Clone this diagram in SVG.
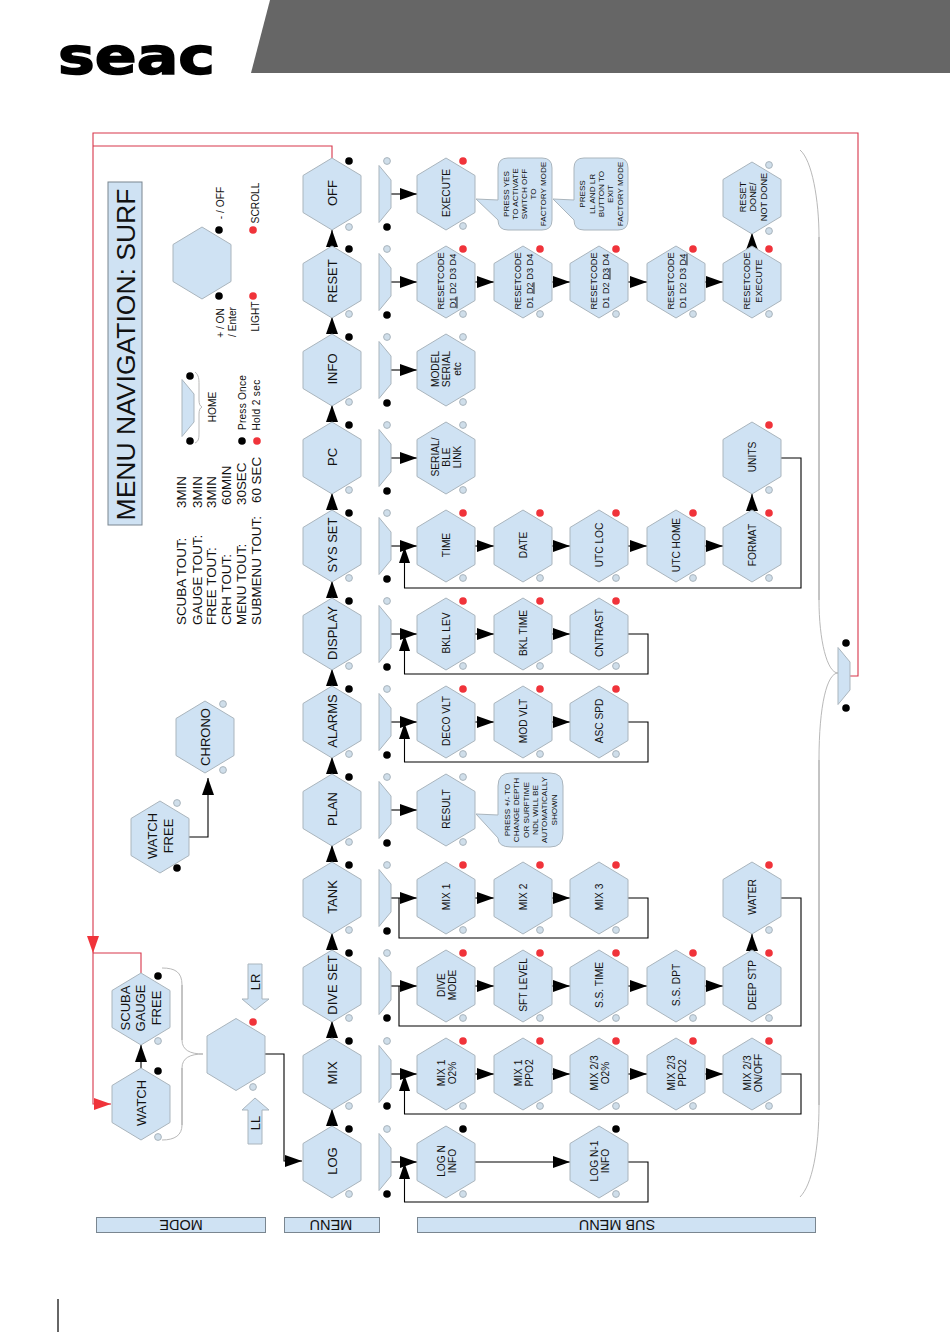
<svg xmlns="http://www.w3.org/2000/svg" width="950" height="1332" viewBox="0 0 950 1332">
<style>
text{font-family:"Liberation Sans",Arial,sans-serif;fill:#111;text-anchor:middle}
.hx,.tz,.bar,.blk,.bub{fill:#cfe2f3;stroke:#aab5bd;stroke-width:1}
.bar{stroke:#7a8690}
.k{fill:#000;r:3.8px}
.r{fill:#f0333a;r:3.8px}
.g{fill:#cfdeea;stroke:#aab5bd;stroke-width:1;r:3.4px}
.m{font-size:13px}
.s{font-size:10.2px}
.c{font-size:9.2px}
.b{font-size:8.1px}
.l{font-size:13.4px;text-anchor:start}
.h{font-size:14.5px}
.w{font-size:10.2px}
.ln{fill:none;stroke:#000;stroke-width:1.1;marker-end:url(#a)}
.lp{fill:none;stroke:#000;stroke-width:1.1}
.lu{fill:none;stroke:#000;stroke-width:1.1;marker-end:url(#au)}
.rd{fill:none;stroke:#d8364a;stroke-width:1.1}
.rda{fill:none;stroke:#d8364a;stroke-width:1.1;marker-end:url(#ar)}
.rdm{fill:none;stroke:none;marker-end:url(#ar)}
.br{fill:none;stroke:#b0b0b0;stroke-width:.9}
.bv{fill:none;stroke:#888;stroke-width:1}
</style>
<defs>
<polygon id="hex" class="hx" points="0,-36 29,-18.5 29,18.5 0,36 -29,18.5 -29,-18.5"/>
<polygon id="tz" class="tz" points="0,-28.5 12,-14 12,14 0,28.5"/>
<marker id="a" markerUnits="userSpaceOnUse" markerWidth="18" markerHeight="13" refX="17" refY="6" orient="auto"><path d="M0,0L17,6L0,12z" fill="#000"/></marker>
<marker id="au" markerUnits="userSpaceOnUse" markerWidth="18" markerHeight="13" refX="16" refY="5.5" orient="auto"><path d="M0,0L16,5.5L0,11z" fill="#000"/></marker>
<marker id="ar" markerUnits="userSpaceOnUse" markerWidth="18" markerHeight="13" refX="17" refY="6" orient="auto"><path d="M0,0L17,6L0,12z" fill="#f0333a"/></marker>
</defs>

<g id="header">
<polygon points="270,0 950,0 950,73 251,73" fill="#666"/>
<text x="136.5" y="73.5" font-size="52" font-weight="bold" textLength="157" lengthAdjust="spacingAndGlyphs" stroke="#000" stroke-width="1.5" stroke-linejoin="miter" style="font-family:'DejaVu Sans',sans-serif;fill:#000">seac</text>
<line x1="58" y1="1299" x2="58" y2="1332" stroke="#666" stroke-width="2"/>
</g>

<g id="connectors">
<path class="rda" d="M849,676H858V133H93V1104H111"/>
<path class="rd" d="M332,158V146H93"/>
<path class="rdm" d="M93,936V953"/>
<path class="rd" d="M141,973V953H93"/>
<path class="br" d="M162,968C175,968 182,972 182,985"/>
<path class="bv" d="M182,985V1040"/>
<path class="br" d="M182,1040C182,1050 190,1054 203,1054C190,1054 182,1058 182,1068"/>
<path class="bv" d="M182,1068V1125"/>
<path class="br" d="M182,1125C182,1135 175,1140 162,1140"/>
<path class="br" d="M800,150C812,160 819,200 819,237"/>
<path class="bv" d="M819,237V600"/>
<path class="br" d="M819,600C819,640 827,673 838,673C827,673 819,705 819,760"/>
<path class="bv" d="M819,760V1105"/>
<path class="br" d="M819,1105C819,1150 812,1185 800,1197"/>
<path class="br" d="M195,372C199,375 199,380 199,384V400C199,404 200,406 202,407C200,408 199,410 199,414V432C199,438 199,441 195,443"/>
<path class="ln" d="M332,1127V1109"/>
<path class="ln" d="M332,1039V1021"/>
<path class="ln" d="M332,951V933"/>
<path class="ln" d="M332,863V845"/>
<path class="ln" d="M332,775V757"/>
<path class="ln" d="M332,687V669"/>
<path class="ln" d="M332,599V581"/>
<path class="ln" d="M332,511V493"/>
<path class="ln" d="M332,423V405"/>
<path class="ln" d="M332,335V317"/>
<path class="ln" d="M332,248V230"/>
<path class="ln" d="M265,1054H284V1161H302"/>
<path class="ln" d="M141,1068V1045"/>
<path class="ln" d="M189,837H208V778"/>
<path class="ln" d="M391,194H417"/>
<path class="ln" d="M391,282H417"/>
<path class="ln" d="M391,370H417"/>
<path class="ln" d="M391,458H417"/>
<path class="ln" d="M391,546H417"/>
<path class="ln" d="M391,634H417"/>
<path class="ln" d="M391,722H417"/>
<path class="ln" d="M391,810H417"/>
<path class="ln" d="M391,898H417"/>
<path class="ln" d="M391,986H417"/>
<path class="ln" d="M391,1074H417"/>
<path class="ln" d="M391,1162H417"/>
<path class="ln" d="M475,282H494"/><path class="ln" d="M552,282H570"/><path class="ln" d="M628,282H647"/><path class="ln" d="M705,282H723"/>
<path class="ln" d="M752,250V233"/>
<path class="ln" d="M475,546H494"/><path class="ln" d="M552,546H570"/><path class="ln" d="M628,546H647"/><path class="ln" d="M705,546H723"/>
<path class="ln" d="M752,511V494"/>
<path class="lu" d="M781,458H801V588H404.5V547"/>
<path class="ln" d="M475,634H494"/><path class="ln" d="M552,634H570"/>
<path class="lu" d="M628,634H648V674H404.5V635"/>
<path class="ln" d="M475,722H494"/><path class="ln" d="M552,722H570"/>
<path class="lu" d="M628,722H648V762H404.5V723"/>
<path class="ln" d="M475,898H494"/><path class="ln" d="M552,898H570"/>
<path class="lp" d="M628,898H648V938H399V898"/>
<path class="ln" d="M475,986H494"/><path class="ln" d="M552,986H570"/><path class="ln" d="M628,986H647"/><path class="ln" d="M705,986H723"/>
<path class="ln" d="M752,950V934"/>
<path class="lp" d="M781,898H801V1026H399V986"/>
<path class="ln" d="M475,1074H494"/><path class="ln" d="M552,1074H570"/><path class="ln" d="M628,1074H647"/><path class="ln" d="M705,1074H723"/>
<path class="lu" d="M781,1074H801V1114H404.5V1075"/>
<path class="ln" d="M475,1162H570"/>
<path class="lu" d="M628,1162H648V1202H404.5V1163"/>
</g>

<g id="title"><rect class="bar" x="108" y="182" width="34" height="343"/><text transform="translate(135,354.5) rotate(-90)" font-size="26.5">MENU NAVIGATION: SURF</text></g>

<g id="timeouts">
<text class="l" transform="translate(186,625) rotate(-90)">SCUBA TOUT:</text>
<text class="l" transform="translate(201.5,625) rotate(-90)">GAUGE TOUT:</text>
<text class="l" transform="translate(216,625) rotate(-90)">FREE TOUT:</text>
<text class="l" transform="translate(231,625) rotate(-90)">CRH TOUT:</text>
<text class="l" transform="translate(246,625) rotate(-90)">MENU TOUT:</text>
<text class="l" transform="translate(260.5,625) rotate(-90)">SUBMENU TOUT:</text>
<text class="l" transform="translate(186,508) rotate(-90)">3MIN</text>
<text class="l" transform="translate(201.5,508) rotate(-90)">3MIN</text>
<text class="l" transform="translate(216,508) rotate(-90)">3MIN</text>
<text class="l" transform="translate(231,505) rotate(-90)">60MIN</text>
<text class="l" transform="translate(246,505) rotate(-90)">30SEC</text>
<text class="l" transform="translate(260.5,503) rotate(-90)">60 SEC</text>
</g>

<g id="legend-keys">
<use href="#hex" x="202" y="263"/>
<circle class="k" cx="219" cy="230"/><circle class="k" cx="219" cy="296"/>
<circle class="r" cx="253" cy="230"/><circle class="r" cx="253" cy="296"/>
<text class="w" transform="translate(223.5,203) rotate(-90)">- / OFF</text>
<text class="w" transform="translate(258.5,203) rotate(-90)">SCROLL</text>
<text class="w" transform="translate(223.5,323) rotate(-90)">+ / ON</text>
<text class="w" transform="translate(236,322) rotate(-90)">/ Enter</text>
<text class="w" transform="translate(258.5,316.5) rotate(-90)">LIGHT</text>
</g>

<g id="legend-home">
<use href="#tz" x="182" y="408"/>
<circle class="k" cx="190" cy="376"/><circle class="k" cx="190" cy="441"/>
<text class="w" transform="translate(215.5,407) rotate(-90)">HOME</text>
<circle class="k" cx="242" cy="441"/><circle class="r" cx="257" cy="441"/>
<text class="w" transform="translate(246,402.5) rotate(-90)" style="letter-spacing:.2px">Press Once</text>
<text class="w" transform="translate(260,405) rotate(-90)" style="letter-spacing:.3px">Hold 2 sec</text>
</g>

<g id="n-watch-free"><use href="#hex" x="160" y="837"/><circle class="g" cx="177" cy="803"/><circle class="k" cx="177" cy="868"/><text class="m" transform="translate(156.5,836) rotate(-90)">WATCH</text><text class="m" transform="translate(172.5,836) rotate(-90)">FREE</text></g>
<g id="n-chrono"><use href="#hex" x="205" y="737"/><circle class="g" cx="223" cy="704"/><circle class="g" cx="223" cy="770"/><text class="m" transform="translate(209.7,737) rotate(-90)">CHRONO</text></g>
<g id="n-scuba"><use href="#hex" x="141" y="1009"/><circle class="k" cx="158" cy="976"/><circle class="g" cx="158" cy="1041"/><text class="m" transform="translate(130,1008) rotate(-90)">SCUBA</text><text class="m" transform="translate(145,1008) rotate(-90)">GAUGE</text><text class="m" transform="translate(160.5,1008) rotate(-90)">FREE</text></g>
<g id="n-watch"><use href="#hex" x="141" y="1104"/><circle class="k" cx="158" cy="1071"/><circle class="g" cx="158" cy="1137"/><text class="m" transform="translate(145.7,1103) rotate(-90)">WATCH</text></g>
<g id="n-mode"><use href="#hex" x="236" y="1054.5"/><circle class="r" cx="253" cy="1022"/><circle class="g" cx="253" cy="1087"/></g>
<g id="n-lr"><polygon class="blk" points="248,964 262,964 262,999 269,999 255,1010 242,999 248,999"/><text class="m" transform="translate(259.7,982) rotate(-90)">LR</text></g>
<g id="n-ll"><polygon class="blk" points="255,1098 269,1110 262,1110 262,1144 248,1144 248,1110 242,1110"/><text class="m" transform="translate(259.7,1123) rotate(-90)">LL</text></g>

<g id="n-log"><use href="#hex" x="332" y="1162"/><circle class="k" cx="349" cy="1129"/><circle class="g" cx="349" cy="1194"/><text class="m" transform="translate(336.5,1161) rotate(-90)">LOG</text></g>
<g id="n-mix"><use href="#hex" x="332" y="1074"/><circle class="k" cx="349" cy="1041"/><circle class="g" cx="349" cy="1106"/><text class="m" transform="translate(336.5,1073) rotate(-90)">MIX</text></g>
<g id="n-diveset"><use href="#hex" x="332" y="986"/><circle class="k" cx="349" cy="953"/><circle class="g" cx="349" cy="1018"/><text class="m" transform="translate(336.5,985) rotate(-90)">DIVE SET</text></g>
<g id="n-tank"><use href="#hex" x="332" y="898"/><circle class="k" cx="349" cy="865"/><circle class="g" cx="349" cy="930"/><text class="m" transform="translate(336.5,897) rotate(-90)">TANK</text></g>
<g id="n-plan"><use href="#hex" x="332" y="810"/><circle class="k" cx="349" cy="777"/><circle class="g" cx="349" cy="842"/><text class="m" transform="translate(336.5,809) rotate(-90)">PLAN</text></g>
<g id="n-alarms"><use href="#hex" x="332" y="722"/><circle class="k" cx="349" cy="689"/><circle class="g" cx="349" cy="754"/><text class="m" transform="translate(336.5,721) rotate(-90)">ALARMS</text></g>
<g id="n-display"><use href="#hex" x="332" y="634"/><circle class="k" cx="349" cy="601"/><circle class="g" cx="349" cy="666"/><text class="m" transform="translate(336.5,633) rotate(-90)">DISPLAY</text></g>
<g id="n-sysset"><use href="#hex" x="332" y="546"/><circle class="k" cx="349" cy="513"/><circle class="g" cx="349" cy="578"/><text class="m" transform="translate(336.5,545) rotate(-90)">SYS SET</text></g>
<g id="n-pc"><use href="#hex" x="332" y="458"/><circle class="k" cx="349" cy="425"/><circle class="g" cx="349" cy="490"/><text class="m" transform="translate(336.5,457) rotate(-90)">PC</text></g>
<g id="n-info"><use href="#hex" x="332" y="370"/><circle class="k" cx="349" cy="337"/><circle class="g" cx="349" cy="402"/><text class="m" transform="translate(336.5,369) rotate(-90)">INFO</text></g>
<g id="n-reset"><use href="#hex" x="332" y="282"/><circle class="k" cx="349" cy="249"/><circle class="g" cx="349" cy="314"/><text class="m" transform="translate(336.5,281) rotate(-90)">RESET</text></g>
<g id="n-off"><use href="#hex" x="332" y="194"/><circle class="k" cx="349" cy="161"/><circle class="g" cx="349" cy="227"/><text class="m" transform="translate(336.5,193) rotate(-90)">OFF</text></g>

<g id="b-off"><use href="#tz" x="379" y="194"/><circle class="g" cx="387" cy="161"/><circle class="k" cx="387" cy="227"/></g>
<g id="b-reset"><use href="#tz" x="379" y="282"/><circle class="g" cx="387" cy="249"/><circle class="k" cx="387" cy="315"/></g>
<g id="b-info"><use href="#tz" x="379" y="370"/><circle class="g" cx="387" cy="337"/><circle class="k" cx="387" cy="403"/></g>
<g id="b-pc"><use href="#tz" x="379" y="458"/><circle class="g" cx="387" cy="425"/><circle class="k" cx="387" cy="491"/></g>
<g id="b-sysset"><use href="#tz" x="379" y="546"/><circle class="g" cx="387" cy="513"/><circle class="k" cx="387" cy="579"/></g>
<g id="b-display"><use href="#tz" x="379" y="634"/><circle class="g" cx="387" cy="601"/><circle class="k" cx="387" cy="667"/></g>
<g id="b-alarms"><use href="#tz" x="379" y="722"/><circle class="g" cx="387" cy="689"/><circle class="k" cx="387" cy="755"/></g>
<g id="b-plan"><use href="#tz" x="379" y="810"/><circle class="g" cx="387" cy="777"/><circle class="k" cx="387" cy="843"/></g>
<g id="b-tank"><use href="#tz" x="379" y="898"/><circle class="g" cx="387" cy="865"/><circle class="k" cx="387" cy="931"/></g>
<g id="b-diveset"><use href="#tz" x="379" y="986"/><circle class="g" cx="387" cy="953"/><circle class="k" cx="387" cy="1018"/></g>
<g id="b-mix"><use href="#tz" x="379" y="1074"/><circle class="g" cx="387" cy="1041"/><circle class="k" cx="387" cy="1106"/></g>
<g id="b-log"><use href="#tz" x="379" y="1162"/><circle class="g" cx="387" cy="1129"/><circle class="k" cx="387" cy="1194"/></g>
<g id="b-all"><use href="#tz" x="838" y="676"/><circle class="k" cx="846" cy="643"/><circle class="k" cx="846" cy="708"/></g>

<g id="s-execute"><use href="#hex" x="446" y="194"/><circle class="r" cx="463" cy="161"/><circle class="g" cx="463" cy="226"/><text class="s" transform="translate(450,193) rotate(-90)">EXECUTE</text></g>
<g id="c-activate"><path class="bub" d="M508,158H542Q552,158 552,168V220Q552,230 542,230H508Q498,230 498,220L476,199L498,200V168Q498,158 508,158Z"/>
<text class="b" transform="translate(509,194) rotate(-90)">PRESS YES</text><text class="b" transform="translate(518,194) rotate(-90)">TO ACTIVATE</text><text class="b" transform="translate(527,194) rotate(-90)">SWITCH OFF</text><text class="b" transform="translate(536,194) rotate(-90)">TO</text><text class="b" transform="translate(546,194) rotate(-90)">FACTORY MODE</text></g>
<g id="c-exit"><path class="bub" d="M584,158H618Q628,158 628,168V220Q628,230 618,230H584Q574,230 574,220L553,199L574,200V168Q574,158 584,158Z"/>
<text class="b" transform="translate(585,194) rotate(-90)">PRESS</text><text class="b" transform="translate(595,194) rotate(-90)">LL AND LR</text><text class="b" transform="translate(604,194) rotate(-90)">BUTTON TO</text><text class="b" transform="translate(613,194) rotate(-90)">EXIT</text><text class="b" transform="translate(623,194) rotate(-90)">FACTORY MODE</text></g>
<g id="s-done"><use href="#hex" x="752" y="198"/><circle class="g" cx="769" cy="165"/><circle class="g" cx="769" cy="231"/><text class="c" transform="translate(745.5,197) rotate(-90)">RESET</text><text class="c" transform="translate(755.5,197) rotate(-90)">DONE/</text><text class="c" transform="translate(766.5,197) rotate(-90)">NOT DONE</text></g>

<g id="s-rc1"><use href="#hex" x="446" y="282"/><circle class="r" cx="463" cy="249"/><circle class="g" cx="463" cy="314"/><text class="c" transform="translate(444,281) rotate(-90)">RESETCODE</text><text class="c" transform="translate(455.5,281) rotate(-90)"><tspan text-decoration="underline">D1</tspan> D2 D3 D4</text></g>
<g id="s-rc2"><use href="#hex" x="523" y="282"/><circle class="r" cx="540" cy="249"/><circle class="g" cx="540" cy="314"/><text class="c" transform="translate(521,281) rotate(-90)">RESETCODE</text><text class="c" transform="translate(532.5,281) rotate(-90)">D1 <tspan text-decoration="underline">D2</tspan> D3 D4</text></g>
<g id="s-rc3"><use href="#hex" x="599" y="282"/><circle class="r" cx="616" cy="249"/><circle class="g" cx="616" cy="314"/><text class="c" transform="translate(597,281) rotate(-90)">RESETCODE</text><text class="c" transform="translate(608.5,281) rotate(-90)">D1 D2 <tspan text-decoration="underline">D3</tspan> D4</text></g>
<g id="s-rc4"><use href="#hex" x="676" y="282"/><circle class="r" cx="693" cy="249"/><circle class="g" cx="693" cy="314"/><text class="c" transform="translate(674,281) rotate(-90)">RESETCODE</text><text class="c" transform="translate(685.5,281) rotate(-90)">D1 D2 D3 <tspan text-decoration="underline">D4</tspan></text></g>
<g id="s-rc5"><use href="#hex" x="752" y="282"/><circle class="r" cx="769" cy="249"/><circle class="g" cx="769" cy="314"/><text class="c" transform="translate(750,281) rotate(-90)">RESETCODE</text><text class="c" transform="translate(761.5,281) rotate(-90)">EXECUTE</text></g>

<g id="s-model"><use href="#hex" x="446" y="370"/><circle class="g" cx="463" cy="337"/><circle class="g" cx="463" cy="402"/><text class="s" transform="translate(438.7,369) rotate(-90)">MODEL</text><text class="s" transform="translate(449.7,369) rotate(-90)">SERIAL</text><text class="s" transform="translate(461,369) rotate(-90)">etc</text></g>
<g id="s-serial"><use href="#hex" x="446" y="458"/><circle class="g" cx="463" cy="425"/><circle class="g" cx="463" cy="490"/><text class="s" transform="translate(438.7,457) rotate(-90)">SERIAL/</text><text class="s" transform="translate(449.7,457) rotate(-90)">BLE</text><text class="s" transform="translate(461,457) rotate(-90)">LINK</text></g>

<g id="s-time"><use href="#hex" x="446" y="546"/><circle class="r" cx="463" cy="513"/><circle class="g" cx="463" cy="578"/><text class="s" transform="translate(450,545) rotate(-90)">TIME</text></g>
<g id="s-date"><use href="#hex" x="523" y="546"/><circle class="r" cx="540" cy="513"/><circle class="g" cx="540" cy="578"/><text class="s" transform="translate(527,545) rotate(-90)">DATE</text></g>
<g id="s-utcloc"><use href="#hex" x="599" y="546"/><circle class="r" cx="616" cy="513"/><circle class="g" cx="616" cy="578"/><text class="s" transform="translate(603,545) rotate(-90)">UTC LOC</text></g>
<g id="s-utchome"><use href="#hex" x="676" y="546"/><circle class="r" cx="693" cy="513"/><circle class="g" cx="693" cy="578"/><text class="s" transform="translate(680,545) rotate(-90)">UTC HOME</text></g>
<g id="s-format"><use href="#hex" x="752" y="546"/><circle class="r" cx="769" cy="513"/><circle class="g" cx="769" cy="578"/><text class="s" transform="translate(756,545) rotate(-90)">FORMAT</text></g>
<g id="s-units"><use href="#hex" x="752" y="458"/><circle class="r" cx="769" cy="425"/><circle class="g" cx="769" cy="490"/><text class="s" transform="translate(756,457) rotate(-90)">UNITS</text></g>

<g id="s-bkllev"><use href="#hex" x="446" y="634"/><circle class="r" cx="463" cy="601"/><circle class="g" cx="463" cy="666"/><text class="s" transform="translate(450,633) rotate(-90)">BKL LEV</text></g>
<g id="s-bkltime"><use href="#hex" x="523" y="634"/><circle class="r" cx="540" cy="601"/><circle class="g" cx="540" cy="666"/><text class="s" transform="translate(527,633) rotate(-90)">BKL TIME</text></g>
<g id="s-cntrast"><use href="#hex" x="599" y="634"/><circle class="r" cx="616" cy="601"/><circle class="g" cx="616" cy="666"/><text class="s" transform="translate(603,633) rotate(-90)">CNTRAST</text></g>

<g id="s-decovlt"><use href="#hex" x="446" y="722"/><circle class="r" cx="463" cy="689"/><circle class="g" cx="463" cy="754"/><text class="s" transform="translate(450,721) rotate(-90)">DECO VLT</text></g>
<g id="s-modvlt"><use href="#hex" x="523" y="722"/><circle class="r" cx="540" cy="689"/><circle class="g" cx="540" cy="754"/><text class="s" transform="translate(527,721) rotate(-90)">MOD VLT</text></g>
<g id="s-ascspd"><use href="#hex" x="599" y="722"/><circle class="r" cx="616" cy="689"/><circle class="g" cx="616" cy="754"/><text class="s" transform="translate(603,721) rotate(-90)">ASC SPD</text></g>

<g id="s-result"><use href="#hex" x="446" y="810"/><circle class="g" cx="463" cy="777"/><circle class="g" cx="463" cy="842"/><text class="s" transform="translate(450,809) rotate(-90)">RESULT</text></g>
<g id="c-result"><path class="bub" d="M511,773H550Q563,773 563,786V834Q563,847 550,847H511Q498,847 498,838L476,814L498,815V786Q498,773 511,773Z"/>
<text class="b" transform="translate(510,810) rotate(-90)">PRESS +/- TO</text><text class="b" transform="translate(519,810) rotate(-90)">CHANGE DEPTH</text><text class="b" transform="translate(529,810) rotate(-90)">OR SURFTIME</text><text class="b" transform="translate(538,810) rotate(-90)">NDL WILL BE</text><text class="b" transform="translate(547,810) rotate(-90)">AUTOMATICALLY</text><text class="b" transform="translate(557,810) rotate(-90)">SHOWN</text></g>

<g id="s-mix1"><use href="#hex" x="446" y="898"/><circle class="r" cx="463" cy="865"/><circle class="g" cx="463" cy="930"/><text class="s" transform="translate(450,897) rotate(-90)">MIX 1</text></g>
<g id="s-mix2"><use href="#hex" x="523" y="898"/><circle class="r" cx="540" cy="865"/><circle class="g" cx="540" cy="930"/><text class="s" transform="translate(527,897) rotate(-90)">MIX 2</text></g>
<g id="s-mix3"><use href="#hex" x="599" y="898"/><circle class="r" cx="616" cy="865"/><circle class="g" cx="616" cy="930"/><text class="s" transform="translate(603,897) rotate(-90)">MIX 3</text></g>
<g id="s-water"><use href="#hex" x="752" y="898"/><circle class="r" cx="769" cy="865"/><circle class="g" cx="769" cy="930"/><text class="s" transform="translate(756,897) rotate(-90)">WATER</text></g>

<g id="s-divemode"><use href="#hex" x="446" y="986"/><circle class="r" cx="463" cy="953"/><circle class="g" cx="463" cy="1018"/><text class="s" transform="translate(444.5,985) rotate(-90)">DIVE</text><text class="s" transform="translate(456,985) rotate(-90)">MODE</text></g>
<g id="s-sft"><use href="#hex" x="523" y="986"/><circle class="r" cx="540" cy="953"/><circle class="g" cx="540" cy="1018"/><text class="s" transform="translate(527,985) rotate(-90)">SFT LEVEL</text></g>
<g id="s-sstime"><use href="#hex" x="599" y="986"/><circle class="r" cx="616" cy="953"/><circle class="g" cx="616" cy="1018"/><text class="s" transform="translate(603,985) rotate(-90)">S.S. TIME</text></g>
<g id="s-ssdpt"><use href="#hex" x="676" y="986"/><circle class="r" cx="693" cy="953"/><circle class="g" cx="693" cy="1018"/><text class="s" transform="translate(680,985) rotate(-90)">S.S. DPT</text></g>
<g id="s-deep"><use href="#hex" x="752" y="986"/><circle class="r" cx="769" cy="953"/><circle class="g" cx="769" cy="1018"/><text class="s" transform="translate(756,985) rotate(-90)">DEEP STP</text></g>

<g id="s-m1o2"><use href="#hex" x="446" y="1074"/><circle class="r" cx="463" cy="1041"/><circle class="g" cx="463" cy="1106"/><text class="s" transform="translate(444.5,1073) rotate(-90)">MIX 1</text><text class="s" transform="translate(456,1073) rotate(-90)">O2%</text></g>
<g id="s-m1ppo2"><use href="#hex" x="523" y="1074"/><circle class="r" cx="540" cy="1041"/><circle class="g" cx="540" cy="1106"/><text class="s" transform="translate(521.5,1073) rotate(-90)">MIX 1</text><text class="s" transform="translate(533,1073) rotate(-90)">PPO2</text></g>
<g id="s-m23o2"><use href="#hex" x="599" y="1074"/><circle class="r" cx="616" cy="1041"/><circle class="g" cx="616" cy="1106"/><text class="s" transform="translate(597.5,1073) rotate(-90)">MIX 2/3</text><text class="s" transform="translate(609,1073) rotate(-90)">O2%</text></g>
<g id="s-m23ppo2"><use href="#hex" x="676" y="1074"/><circle class="r" cx="693" cy="1041"/><circle class="g" cx="693" cy="1106"/><text class="s" transform="translate(674.5,1073) rotate(-90)">MIX 2/3</text><text class="s" transform="translate(686,1073) rotate(-90)">PPO2</text></g>
<g id="s-m23on"><use href="#hex" x="752" y="1074"/><circle class="r" cx="769" cy="1041"/><circle class="g" cx="769" cy="1106"/><text class="s" transform="translate(750.5,1073) rotate(-90)">MIX 2/3</text><text class="s" transform="translate(762,1073) rotate(-90)">ON/OFF</text></g>

<g id="s-logn"><use href="#hex" x="446" y="1162"/><circle class="k" cx="463" cy="1129"/><circle class="g" cx="463" cy="1194"/><text class="s" transform="translate(444.5,1161) rotate(-90)">LOG N</text><text class="s" transform="translate(456,1161) rotate(-90)">INFO</text></g>
<g id="s-logn1"><use href="#hex" x="599" y="1162"/><circle class="k" cx="616" cy="1129"/><circle class="g" cx="616" cy="1194"/><text class="s" transform="translate(597.5,1161) rotate(-90)">LOG N-1</text><text class="s" transform="translate(609,1161) rotate(-90)">INFO</text></g>

<g id="bar-mode"><rect class="bar" x="96.5" y="1217.5" width="169" height="15"/><text class="h" transform="translate(181,1219.5) rotate(180)">MODE</text></g>
<g id="bar-menu"><rect class="bar" x="284.5" y="1217.5" width="95" height="15"/><text class="h" transform="translate(331,1219.5) rotate(180)">MENU</text></g>
<g id="bar-sub"><rect class="bar" x="417.5" y="1217.5" width="398" height="15"/><text class="h" transform="translate(617,1219.5) rotate(180)">SUB MENU</text></g>
</svg>
